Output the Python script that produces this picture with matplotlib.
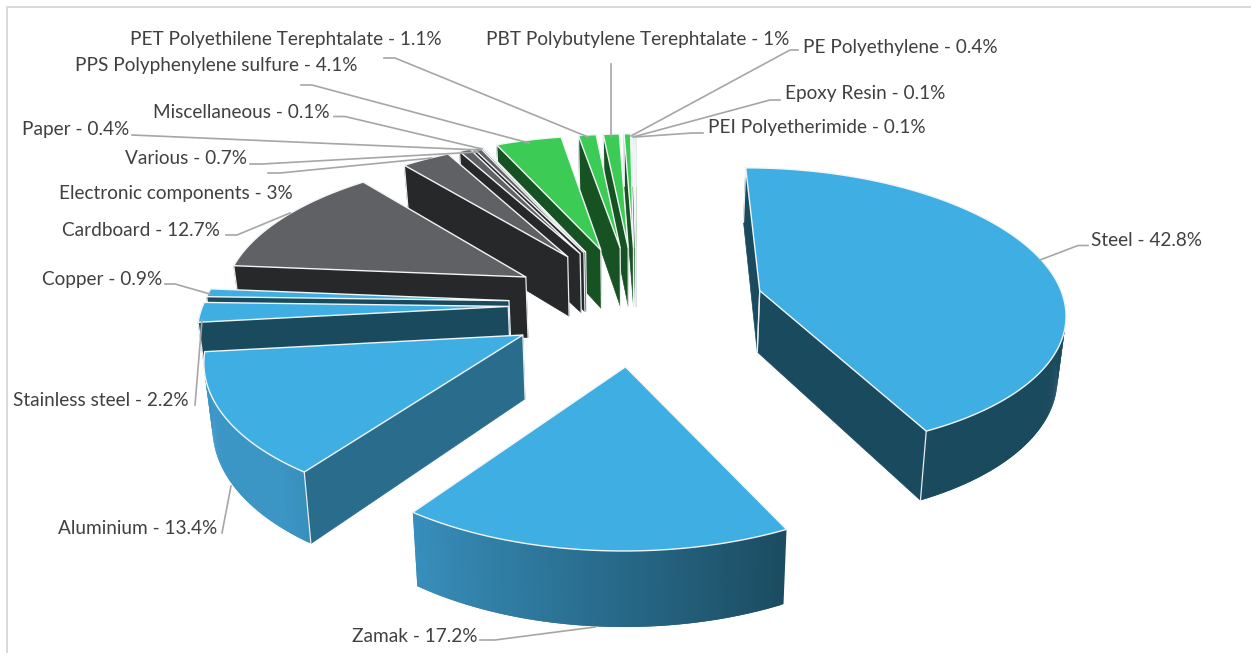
import numpy as np
import matplotlib
matplotlib.use("Agg")
import matplotlib.pyplot as plt
from matplotlib.colors import to_rgb

names = ["Steel", "Zamak", "Aluminium", "Stainless steel", "Copper", "Cardboard",
         "Electronic components", "Various", "Paper", "Miscellaneous",
         "PPS Polyphenylene sulfure", "PET Polyethilene Terephtalate",
         "PBT Polybutylene Terephtalate", "PE Polyethylene", "Epoxy Resin",
         "PEI Polyetherimide"]
values = [42.8, 17.2, 13.4, 2.2, 0.9, 12.7, 3, 0.7, 0.4, 0.1, 4.1, 1.1, 1, 0.4, 0.1, 0.1]
groups = ["b", "b", "b", "b", "b", "k", "k", "k", "k", "k", "g", "g", "g", "g", "g", "g"]

top_col = {"b": "#3eaee3", "k": "#606165", "g": "#3ccb55"}
side_col = {"b": "#1a4a5e", "k": "#27282a", "g": "#165222"}
light_col = {"b": "#3b96c6", "k": "#45464a", "g": "#2a9a3c"}

label_pos = [(1091, 241), (352, 636), (58, 528), (13, 400), (42, 280), (62, 231), (59, 193),
             (125, 159), (22, 130), (153, 112), (75, 66), (130, 39), (486, 40), (803, 47),
             (785, 94), (708, 127)]
leaders = [
    [(1088, 245.5), (1078, 245.5), (1040, 260)],
    [(480, 640), (495, 640), (595, 627)],
    [(222, 533), (231, 486)],
    [(195, 405), (202, 320)],
    [(165, 284), (175, 284), (210, 294)],
    [(226, 235), (237, 235), (290, 213)],
    [(268, 173), (280, 173), (432, 158)],
    [(250, 164), (262, 164), (478, 152)],
    [(132, 135), (480, 150)],
    [(334, 116.5), (345, 116.5), (482, 149)],
    [(301, 85), (312, 85), (529, 143)],
    [(384, 58), (395, 58), (588, 137)],
    [(611, 64), (611, 136)],
    [(798, 50), (790, 50), (631, 136)],
    [(780, 100), (770, 100), (633, 137)],
    [(703, 133), (692, 133), (635, 137)],
]

# projection parameters
CX, CY, AX, BY, PERSP = 636.5, 304.0, 305.0, 142.0, 0.13
EXPLODE, ROT, DEPTH, SHRINK = 0.42, 0.0, 62.0, 0.98


def project(X, Y):
    w = 1 + PERSP * Y
    return CX + AX * X / w, CY - BY * Y / w, w


def lower(sx, sy, w):
    return CX + (sx - CX) * SHRINK, sy + DEPTH / w


def mix(a, b, t):
    a, b = np.array(to_rgb(a)), np.array(to_rgb(b))
    return tuple(a + (b - a) * t)


def cross(ax_, ay_, bx_, by_):
    return ax_ * by_ - ay_ * bx_


fig = plt.figure(figsize=(12.51, 6.53), dpi=100)
ax = fig.add_axes([0, 0, 1, 1])
ax.set_xlim(0, 1251)
ax.set_ylim(653, 0)
ax.axis("off")
plt.rcParams["font.family"] = ["Lato", "DejaVu Sans"]

ax.plot([7, 7, 1251], [653, 7, 7], color="#d9d9d9", lw=1.4, zorder=0)

vals = np.array(values, dtype=float)
edges = np.concatenate([[0], np.cumsum(vals)]) / vals.sum() * 360 + ROT

slices = []
for i, g in enumerate(groups):
    a0, a1 = edges[i], edges[i + 1]
    m = np.radians((a0 + a1) / 2)
    ox, oy = EXPLODE * np.sin(m), EXPLODE * np.cos(m)
    slices.append((oy, i, a0, a1, ox, g))

z = 2
for oy, i, a0, a1, ox, g in sorted(slices, key=lambda s: -s[0]):
    th = np.radians(np.linspace(a0, a1, max(3, int((a1 - a0) * 2) + 2)))
    sx, sy, w = project(ox + np.sin(th), oy + np.cos(th))
    tx, ty, tw = project(np.array([ox]), np.array([oy]))
    bx, by = lower(sx, sy, w)
    tbx, tby = lower(tx, ty, tw)
    midk = len(th) // 2

    # outer rim, overlapping strips coloured by direction
    for k in range(len(th) - 1):
        if np.cos(th[k]) > 0.08:
            continue
        deg = np.degrees(th[k])
        t = 1.0 if deg > 265 else np.clip((222 - deg) / 70, 0, 1)
        c = mix(light_col[g], side_col[g], t)
        n = min(k + 2, len(th) - 1)
        ax.fill(np.r_[sx[k:n + 1], bx[k:n + 1][::-1]], np.r_[sy[k:n + 1], by[k:n + 1][::-1]],
                fc=c, ec="none", lw=0, zorder=z)
    z += 1

    # cut faces (only those turned toward the viewer)
    for e, deg in ((0, a0), (-1, a1)):
        dx, dy = sx[e] - tx[0], sy[e] - ty[0]
        ix, iy = sx[midk] - tx[0], sy[midk] - ty[0]
        if cross(dx, dy, ix, iy) * cross(dx, dy, 0.0, 1.0) >= 0:
            continue
        t = min(1.0, 0.55 + abs(deg - 216) / 60)
        c = mix(light_col[g], side_col[g], t)
        ax.fill([tx[0], sx[e], bx[e], tbx[0]], [ty[0], sy[e], by[e], tby[0]],
                fc=c, ec=c, lw=0.5, zorder=z)
        ax.plot([sx[e], bx[e]], [sy[e], by[e]], color="#e8eef0", lw=0.9, zorder=z + 1)
        ax.plot([tx[0], tbx[0]], [ty[0], tby[0]], color="#e8eef0", lw=0.9, zorder=z + 1)
    z += 2

    # top face
    ax.fill(np.r_[tx, sx], np.r_[ty, sy], fc=top_col[g], ec="#f2f5f6", lw=1.0,
            joinstyle="miter", zorder=z)
    z += 1

z += 1
for pts in leaders:
    xs, ys = zip(*pts)
    ax.plot(xs, ys, color="#a6a6a6", lw=1.2, zorder=z)

for n, v, (x, y) in zip(names, values, label_pos):
    ax.text(x, y, f"{n} - {v}%", ha="left", va="center", fontsize=13.7, color="#404040",
            zorder=z + 1)

fig.savefig("out.png", dpi=100, facecolor="white")
